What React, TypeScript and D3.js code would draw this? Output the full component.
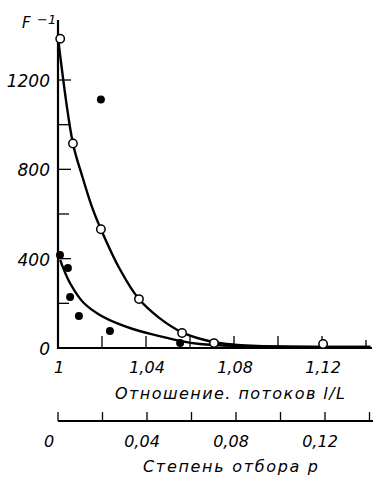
import * as d3 from 'd3';

// open circles (upper series)
const openX = [1.001, 1.0068, 1.0195, 1.0368, 1.0564, 1.0709, 1.1205];
const openY = [1385, 916, 532, 219, 67, 22, 18];

// filled dots (lower series) + one outlier
const filledX = [1.0009, 1.0045, 1.0055, 1.0095, 1.0236, 1.0555, 1.0195];
const filledY = [416, 358, 228, 143, 76, 22, 1113];

// fitted curves
const upperCurveX = [1.0, 1.0068, 1.011, 1.0155, 1.0195, 1.028, 1.0368, 1.046, 1.0564, 1.07, 1.08, 1.1, 1.142];
const upperCurveY = [1390, 916, 770, 630, 532, 355, 219, 135, 70, 28, 15, 7, 5];
const lowerCurveX = [1.001, 1.0023, 1.0055, 1.0114, 1.019, 1.027, 1.034, 1.042, 1.0555, 1.0645, 1.08, 1.1, 1.142];
const lowerCurveY = [395, 360, 290, 205, 148, 110, 85, 63, 32, 18, 9, 6, 5];

const yMajor = [0, 400, 800, 1200];
const yMinor = [200, 600, 1000];
const xTicks = [1.02, 1.04, 1.06, 1.08, 1.1, 1.12, 1.14];
const xLabels = [1, 1.04, 1.08, 1.12];
const pTicks = [0, 0.02, 0.04, 0.06, 0.08, 0.1, 0.12, 0.14];
const pLabels = [0, 0.04, 0.08, 0.12];

const fmtDec = (v: number) => (v === 0 ? '0' : v === 1 ? '1' : d3.format('.2f')(v).replace('.', ','));

const font = { fontFamily: 'DejaVu Sans', fontStyle: 'italic' as const };

export default function App() {
  const x = d3.scaleLinear().domain([1, 1.04]).range([58, 146]);
  const y = d3.scaleLinear().domain([0, 1200]).range([348, 80]);
  const p = d3.scaleLinear().domain([0, 0.04]).range([58, 147]);
  const pAxisY = 421;

  const line = d3
    .line<[number, number]>()
    .x(d => x(d[0]))
    .y(d => y(d[1]))
    .curve(d3.curveCatmullRom.alpha(0.5));

  const upper = line(upperCurveX.map((v, i) => [v, upperCurveY[i]]));
  const lower = line(lowerCurveX.map((v, i) => [v, lowerCurveY[i]]));

  return (
    <svg width={380} height={478} style={{ position: 'absolute', left: 0, top: 0, background: '#fff' }}>
      {/* y axis */}
      <line x1={58} x2={58} y1={20} y2={349} stroke="#000" strokeWidth={2.2} />
      {yMajor.filter(v => v > 0).map(v => (
        <line key={'ym' + v} x1={58} x2={71} y1={y(v)} y2={y(v)} stroke="#000" strokeWidth={1.3} />
      ))}
      {yMinor.map(v => (
        <line key={'yn' + v} x1={58} x2={69} y1={y(v)} y2={y(v)} stroke="#000" strokeWidth={1.3} />
      ))}
      {yMajor.map(v => (
        <text key={'yl' + v} x={50} y={y(v) + 7} textAnchor="end" fontSize={17} {...font}>
          {String(v)}
        </text>
      ))}
      <text x={22} y={28} fontSize={15} {...font}>F</text>
      <text x={37} y={24} fontSize={13} {...font}>−1</text>

      {/* x axis */}
      <line x1={57} x2={372} y1={348} y2={348} stroke="#000" strokeWidth={2.2} />
      {xTicks.map(v => (
        <line key={'xt' + v} x1={x(v)} x2={x(v)} y1={348} y2={v === 1.14 ? 340 : 336} stroke="#000" strokeWidth={1.3} />
      ))}
      {xLabels.map(v => (
        <text key={'xl' + v} x={x(v) + 1} y={373} textAnchor="middle" fontSize={16} {...font}>
          {fmtDec(v)}
        </text>
      ))}
      <text x={115} y={399} fontSize={16} textLength={230} lengthAdjust="spacing" {...font}>
        Отношение. потоков l/L
      </text>

      {/* second axis: degree of withdrawal */}
      <line x1={58} x2={373} y1={pAxisY} y2={pAxisY} stroke="#000" strokeWidth={1.8} />
      {pTicks.map(v => (
        <line key={'pt' + v} x1={p(v)} x2={p(v)} y1={pAxisY} y2={pAxisY - 9} stroke="#000" strokeWidth={1.3} />
      ))}
      {pLabels.map(v => (
        <text key={'pl' + v} x={v === 0 ? 49 : p(v) - 5} y={447} textAnchor="middle" fontSize={16} {...font}>
          {fmtDec(v)}
        </text>
      ))}
      <text x={143} y={472} fontSize={16} textLength={175} lengthAdjust="spacing" {...font}>
        Степень отбора p
      </text>

      {/* curves */}
      <path d={upper ?? ''} fill="none" stroke="#000" strokeWidth={2.4} />
      <path d={lower ?? ''} fill="none" stroke="#000" strokeWidth={2.4} />

      {/* points */}
      {filledX.map((v, i) => (
        <circle key={'f' + i} cx={x(v)} cy={y(filledY[i])} r={4} fill="#000" />
      ))}
      {openX.map((v, i) => (
        <circle key={'o' + i} cx={x(v)} cy={y(openY[i])} r={4.2} fill="#fff" stroke="#000" strokeWidth={1.5} />
      ))}
    </svg>
  );
}
